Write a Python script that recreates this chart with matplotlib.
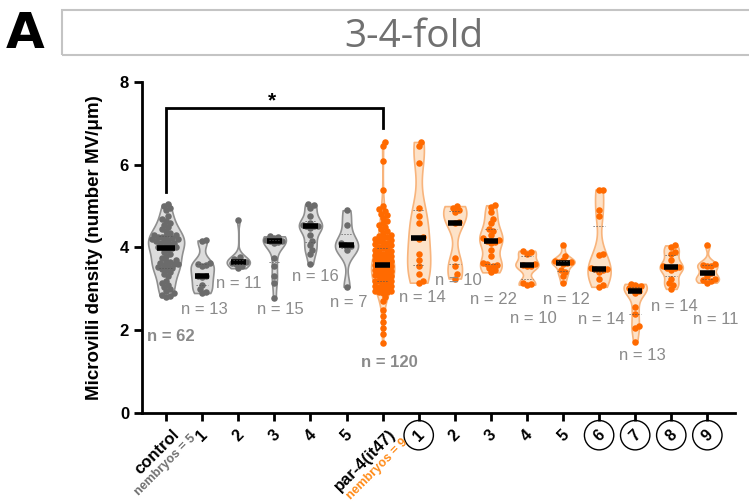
import numpy as np
import matplotlib
matplotlib.use("Agg")
import matplotlib.pyplot as plt
from matplotlib.patches import Rectangle

plt.rcParams['font.family'] = ['Liberation Sans', 'DejaVu Sans']

# ---- data ----
control = [5.05, 5.0, 4.95, 4.9, 4.75, 4.7, 4.65, 4.6, 4.55, 4.5, 4.45, 4.4, 4.35, 4.3, 4.3,
           4.28, 4.25, 4.25, 4.22, 4.2, 4.2, 4.18, 4.15, 4.15, 4.12, 4.1, 4.08, 4.05, 4.02, 4.0,
           4.0, 3.98, 3.95, 3.9, 3.85, 3.8, 3.75, 3.7, 3.68, 3.65, 3.62, 3.6, 3.6, 3.58, 3.55,
           3.52, 3.5, 3.48, 3.45, 3.4, 3.35, 3.3, 3.2, 3.15, 3.1, 3.05, 3.0, 2.95, 2.9, 2.85,
           2.82, 2.8]
ctrl_1 = [4.17, 4.15, 3.62, 3.6, 3.58, 3.55, 3.32, 3.3, 3.28, 3.1, 3.0, 2.92, 2.9]
ctrl_2 = [4.67, 3.78, 3.72, 3.68, 3.66, 3.65, 3.64, 3.62, 3.6, 3.55, 3.5]
ctrl_3 = [4.27, 4.25, 4.22, 4.2, 4.18, 4.17, 4.16, 4.15, 4.13, 4.1, 3.75, 3.55, 3.3, 3.15, 2.77]
ctrl_4 = [5.05, 5.03, 4.95, 4.75, 4.6, 4.55, 4.53, 4.52, 4.51, 4.48, 4.3, 4.15, 4.05, 3.95, 3.85, 3.6]
ctrl_5 = [4.9, 4.55, 4.1, 4.05, 4.03, 3.95, 3.05]
par4 = [6.55, 6.45, 6.1, 5.4, 5.0, 4.92, 4.88, 4.82, 4.78, 4.72, 4.65, 4.6, 4.55, 4.5, 4.45,
        4.4, 4.35,
        4.3, 4.28, 4.25, 4.22, 4.2, 4.18, 4.15, 4.12, 4.1, 4.08, 4.05, 4.02, 4.0, 3.98, 3.95,
        3.92, 3.9, 3.88, 3.85, 3.82, 3.8, 3.78, 3.76, 3.74, 3.72, 3.7, 3.69, 3.68, 3.67, 3.66,
        3.65, 3.64, 3.63, 3.62, 3.62, 3.61, 3.6, 3.6, 3.6, 3.59, 3.59, 3.58, 3.58,
        3.57, 3.56, 3.56, 3.55, 3.55, 3.54, 3.53, 3.52, 3.51, 3.5, 3.49, 3.48, 3.47, 3.46,
        3.45, 3.44, 3.42, 3.4, 3.38, 3.36, 3.34, 3.32, 3.3, 3.28, 3.26, 3.25, 3.24, 3.22,
        3.2, 3.2, 3.18, 3.16, 3.15, 3.14, 3.12, 3.1, 3.1, 3.08, 3.06, 3.05, 3.04, 3.02, 3.0,
        3.0, 2.98, 2.97, 2.96, 2.95, 2.94, 2.93, 2.92, 2.9,
        2.8, 2.7, 2.5, 2.35, 2.2, 2.05, 1.9, 1.7]
par4_1 = [6.55, 6.45, 6.05, 4.95, 4.75, 4.6, 4.25, 4.2, 3.85, 3.7, 3.55, 3.35, 3.2, 3.15]
par4_2 = [5.0, 4.95, 4.9, 4.85, 4.62, 4.58, 3.75, 3.55, 3.35, 3.25]
par4_3 = [5.02, 4.98, 4.85, 4.7, 4.6, 4.45, 4.4, 4.3, 4.22, 4.18, 4.16, 4.14, 4.12, 3.95,
          3.8, 3.62, 3.6, 3.58, 3.55, 3.5, 3.45, 3.4]
par4_4 = [3.92, 3.88, 3.85, 3.6, 3.58, 3.56, 3.55, 3.15, 3.12, 3.1]
par4_5 = [4.05, 3.8, 3.7, 3.68, 3.66, 3.64, 3.62, 3.6, 3.45, 3.4, 3.3, 3.15]
par4_6 = [5.4, 5.38, 4.9, 4.75, 3.85, 3.82, 3.5, 3.48, 3.47, 3.45, 3.4, 3.25, 3.1, 3.05]
par4_7 = [3.12, 3.1, 3.08, 3.05, 3.02, 3.0, 2.95, 2.9, 2.55, 2.4, 2.1, 2.05, 1.72]
par4_8 = [4.05, 4.02, 3.9, 3.85, 3.7, 3.55, 3.53, 3.51, 3.5, 3.45, 3.25, 3.15, 3.1, 3.0]
par4_9 = [4.07, 3.6, 3.58, 3.56, 3.55, 3.38, 3.3, 3.25, 3.22, 3.18, 3.15]

groups = [control, ctrl_1, ctrl_2, ctrl_3, ctrl_4, ctrl_5,
          par4, par4_1, par4_2, par4_3, par4_4, par4_5, par4_6, par4_7, par4_8, par4_9]
tick_labels = ["control", "1", "2", "3", "4", "5",
               "par-4(it47)", "1", "2", "3", "4", "5", "6", "7", "8", "9"]
circled = [7, 12, 13, 14, 15]
n_labels = ["n = 62", "n = 13", "n = 11", "n = 15", "n = 16", "n = 7",
            "n = 120", "n = 14", "n = 10", "n = 22", "n = 10", "n = 12", "n = 14",
            "n = 13", "n = 14", "n = 11"]
n_pos = [(0.14, 1.84), (1.05, 2.51), (2.02, 3.14), (3.16, 2.49), (4.13, 3.29), (5.07, 2.68),
         (6.18, 1.23), (7.09, 2.8), (8.09, 3.21), (9.06, 2.75), (10.17, 2.29), (11.1, 2.75),
         (12.05, 2.27), (13.2, 1.4), (14.1, 2.58), (15.24, 2.27)]

GRAY_PT, GRAY_FACE, GRAY_EDGE = "#6b6b6b", "#dcdcdc", "#8f8f8f"
OR_PT, OR_FACE, OR_EDGE = "#ff6a00", "#fde2c8", "#f8b47c"
TXT_GRAY = "#8a8a8a"


def swarm(vals, pos, dx=0.11, dy=0.11, maxw=0.3):
    # simple deterministic beeswarm
    vals = np.asarray(vals, float)
    xs = np.full(len(vals), float(pos))
    placed = []
    offs = [0] + [s * j for j in range(1, 12) for s in (1, -1)]
    for i in np.argsort(vals):
        v = vals[i]
        best = 0.0
        for o in offs:
            x = o * dx * 0.5
            if abs(x) > maxw:
                continue
            if all(((x - px) / dx) ** 2 + ((v - py) / dy) ** 2 >= 1 for px, py in placed):
                best = x
                break
        placed.append((best, v))
        xs[i] = pos + best
    return xs


fig = plt.figure(figsize=(7.49, 5.04), dpi=100)
ax = fig.add_axes([0.19, 0.1806, 0.791, 0.6567])

positions = np.arange(len(groups))
widths = [1.0] + [0.64] * (len(groups) - 1)
vp = ax.violinplot(groups, positions=positions, widths=widths, showextrema=False,
                   bw_method=0.4)
for i, body in enumerate(vp['bodies']):
    orange = i >= 6
    body.set_facecolor(OR_FACE if orange else GRAY_FACE)
    body.set_edgecolor(OR_EDGE if orange else GRAY_EDGE)
    body.set_alpha(1)
    body.set_linewidth(1.2)
    body.set_zorder(1)

for i, g in enumerate(groups):
    orange = i >= 6
    mw = 0.42 if i == 0 else 0.26
    xs = swarm(g, i, maxw=mw)
    ax.scatter(xs, g, s=22, color=OR_PT if orange else GRAY_PT, zorder=3, lw=0)
    q1, med, q3 = np.percentile(g, [25, 50, 75])
    hw = 0.24 if i == 0 else 0.2
    ax.hlines(med, i - hw, i + hw, color="k", lw=4, zorder=4)
    ax.hlines([q1, q3], i - hw * 0.8, i + hw * 0.8, color="#555555", lw=0.6,
              ls=(0, (1.5, 2)), zorder=4)

# n labels
for i, (lab, (x, y)) in enumerate(zip(n_labels, n_pos)):
    bold = i in (0, 6)
    ax.text(x, y, lab, ha="center", va="center", fontsize=12, color=TXT_GRAY,
            fontweight="bold" if bold else "normal")

# significance bracket
ax.plot([0, 0, 6, 6], [5.35, 7.37, 7.37, 6.88], color="k", lw=2, solid_joinstyle="miter",
        zorder=2)
ax.text(2.94, 7.55, "*", ha="center", va="center", fontsize=15, fontweight="bold")

ax.set_xlim(-0.66, 15.76)
ax.set_ylim(0, 8)
ax.set_yticks([0, 2, 4, 6, 8])
ax.set_yticklabels(["0", "2", "4", "6", "8"], fontweight="bold", fontsize=12)
ax.set_xticks(positions)
ax.set_xticklabels([])
ax.tick_params(axis="both", width=2, length=6, direction="out")
for s in ("top", "right"):
    ax.spines[s].set_visible(False)
for s in ("left", "bottom"):
    ax.spines[s].set_linewidth(2)
ax.set_ylabel("Microvilli density (number MV/\u03bcm)", fontsize=13.5, fontweight="bold",
              labelpad=12)

# x tick labels
for i, lab in enumerate(tick_labels):
    if i in (0, 6):
        ax.annotate(lab, xy=(i, 0), xycoords="data", xytext=(4, -10), textcoords="offset points",
                    rotation=45, rotation_mode="anchor", ha="right", va="top",
                    fontsize=12, fontweight="bold", annotation_clip=False)
    else:
        kw = {}
        if i in circled:
            kw["bbox"] = dict(boxstyle="circle,pad=0.45", fc="none", ec="k", lw=1)
        ax.annotate(lab, xy=(i, 0), xycoords="data", xytext=(0, -16), textcoords="offset points",
                    rotation=45, rotation_mode="anchor", ha="center", va="center",
                    fontsize=11.5, fontweight="bold", annotation_clip=False, **kw)
ax.annotate("nembryos = 5", xy=(0, 0), xycoords="data", xytext=(17, -14),
            textcoords="offset points", rotation=45, rotation_mode="anchor", ha="right",
            va="top", fontsize=9, fontweight="bold", color="#707070", annotation_clip=False)
ax.annotate("nembryos = 9", xy=(6, 0), xycoords="data", xytext=(14, -17),
            textcoords="offset points", rotation=45, rotation_mode="anchor", ha="right",
            va="top", fontsize=9, fontweight="bold", color="#ff8c1a", annotation_clip=False)

# panel header
fig.text(0.008, 0.933, "A", fontsize=36, fontweight="bold", va="center", ha="left",
         family=["DejaVu Sans"])
fig.patches.append(Rectangle((0.083, 0.891), 0.95, 0.089, transform=fig.transFigure,
                             fill=False, ec="#c4c4c4", lw=1.5))
fig.text(0.553, 0.927, "3-4-fold", fontsize=28, color="#707070", ha="center", va="center",
         family=["Open Sans", "DejaVu Sans"])

fig.savefig("out.png", dpi=100)
